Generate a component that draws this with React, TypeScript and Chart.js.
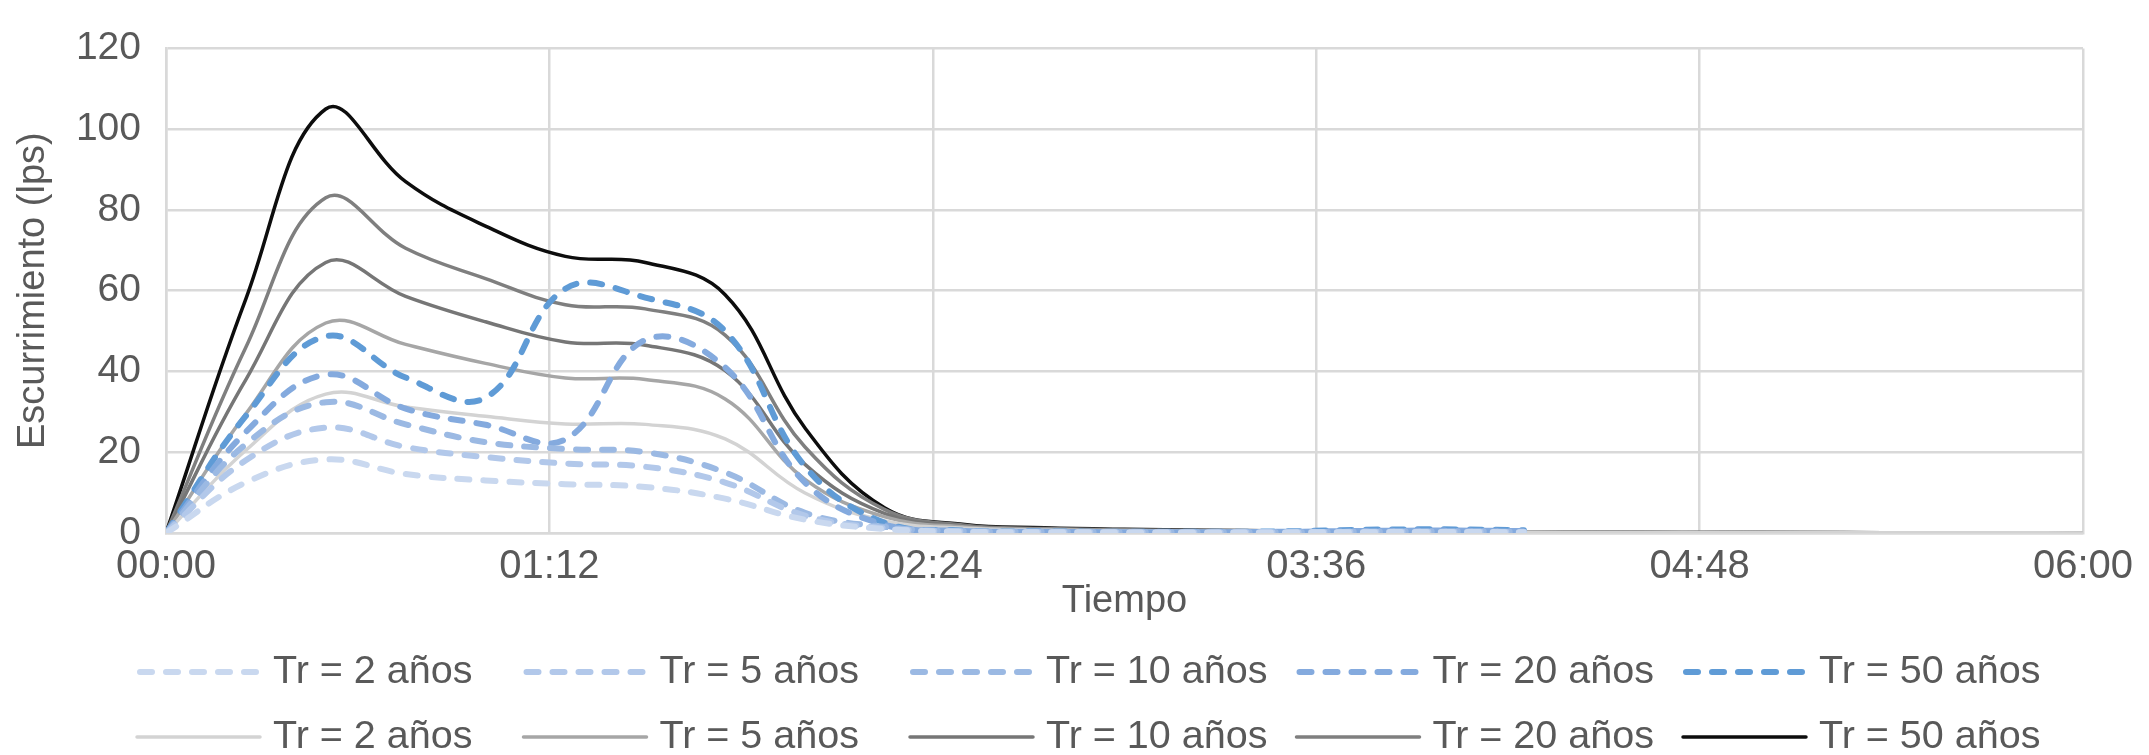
import React, { useEffect, useRef } from 'react';
import { Chart, registerables } from 'chart.js';

Chart.register(...registerables);

// Time in minutes
const timesSolid = [0, 15, 30, 45, 60, 75, 90, 105, 120, 135, 150, 165, 180, 195, 210, 225, 240, 255, 270, 285, 300, 315, 330, 345, 360];
const timesDashed = [0, 15, 30, 45, 60, 75, 90, 105, 120, 135, 150, 165, 180, 195, 210, 225, 240, 255];

const seriesLabels = ['Tr = 2 años', 'Tr = 5 años', 'Tr = 10 años', 'Tr = 20 años', 'Tr = 50 años'];

// Dashed series (blue)
const dashed2 = [0, 12.5, 18.2, 14.6, 13, 12.1, 11.4, 8.5, 3.3, 1, 0.3, 0.2, 0.15, 0.1, 0.15, 0.2, 0.25, 0.2];
const dashed5 = [0, 18, 26.1, 21.3, 18.8, 17.2, 16.4, 12.5, 4.3, 1.2, 0.4, 0.25, 0.2, 0.15, 0.2, 0.3, 0.3, 0.25];
const dashed10 = [0, 22, 32.4, 26.9, 22.5, 20.8, 20, 15, 5, 1.5, 0.4, 0.3, 0.2, 0.2, 0.2, 0.3, 0.4, 0.3];
const dashed20 = [0, 25, 39.2, 30.8, 26.8, 23.2, 47.8, 41, 12.5, 2, 0.5, 0.3, 0.2, 0.2, 0.3, 0.5, 0.6, 0.5];
const dashed50 = [0, 29, 48.7, 38.5, 33.5, 60.5, 58.3, 50, 16.5, 2.5, 0.6, 0.4, 0.3, 0.3, 0.4, 0.8, 0.9, 0.7];

// Solid series (grey)
const solid2 = [0, 20.5, 34.4, 31.2, 28.9, 27, 26.9, 23.3, 9.9, 3, 1.2, 0.7, 0.5, 0.4, 0.3, 0.25, 0.2, 0.16, 0.13, 0.1, 0.08, 0.06, 0.05, 0.04, 0.03];
const solid5 = [0, 29.5, 52, 46.7, 42, 38.4, 38, 33.2, 13.3, 4, 1.5, 0.9, 0.6, 0.45, 0.35, 0.28, 0.22, 0.18, 0.14, 0.11, 0.09, 0.07, 0.06, 0.05, 0.04];
const solid10 = [0, 38, 67, 58.6, 52.3, 47.3, 46.5, 40.2, 17, 4.8, 1.7, 1, 0.7, 0.5, 0.4, 0.32, 0.25, 0.2, 0.16, 0.13, 0.1, 0.08, 0.07, 0.05, 0.04];
const solid20 = [0, 46, 83, 70.5, 63, 56.5, 55.5, 49, 21.3, 5.8, 1.9, 1.1, 0.8, 0.6, 0.45, 0.35, 0.28, 0.22, 0.18, 0.14, 0.11, 0.09, 0.07, 0.05, 0.04];
const solid50 = [0, 58, 105, 87, 76, 68.5, 67, 59, 26, 6.2, 2.1, 1.3, 0.9, 0.7, 0.5, 0.4, 0.3, 0.25, 0.2, 0.15, 0.12, 0.1, 0.08, 0.06, 0.05];

const dashedColors = ['#c9d8ef', '#b2c8ea', '#9bb9e3', '#84aade', '#5f9bd6'];
const solidColors = ['#d3d3d3', '#a6a6a6', '#767676', '#7f7f7f', '#0d0d0d'];

const yTicks = [0, 20, 40, 60, 80, 100, 120];

const FONT = '"Liberation Sans", Arial, sans-serif';
const TEXT = '#595959';
const GRID = '#d9d9d9';

const fmtTime = (v: number) => {
  const h = Math.floor(v / 60);
  const m = Math.round(v % 60);
  return `${String(h).padStart(2, '0')}:${String(m).padStart(2, '0')}`;
};

const toPts = (xs: number[], ys: number[]) => ys.map((y, i) => ({ x: xs[i], y }));

const customLegend = {
  id: 'customLegend',
  afterDraw(chart: any) {
    const ctx = chart.ctx as CanvasRenderingContext2D;
    const ds = chart.data.datasets;
    ctx.save();
    ds.forEach((d: any, i: number) => {
      const row = i < 5 ? 0 : 1;
      const col = i % 5;
      const x0 = 137 + col * 386.5;
      const y = row === 0 ? 672 : 737;
      ctx.beginPath();
      ctx.strokeStyle = d.borderColor;
      ctx.lineWidth = d.borderWidth;
      ctx.lineCap = d.borderCapStyle || 'butt';
      ctx.setLineDash(d.borderDash || []);
      ctx.moveTo(x0 + (d.borderDash ? 3 : 0), y);
      ctx.lineTo(x0 + 123, y);
      ctx.stroke();
      ctx.setLineDash([]);
      ctx.fillStyle = TEXT;
      ctx.font = `39.5px ${FONT}`;
      ctx.textBaseline = 'middle';
      ctx.textAlign = 'left';
      ctx.fillText(d.label, x0 + 136, y);
    });
    ctx.restore();
  },
};

export default function App() {
  const ref = useRef<HTMLCanvasElement | null>(null);

  useEffect(() => {
    if (!ref.current) return;
    const dashedData = [dashed2, dashed5, dashed10, dashed20, dashed50];
    const solidData = [solid2, solid5, solid10, solid20, solid50];
    const datasets: any[] = [];
    dashedData.forEach((vals, i) => {
      datasets.push({
        label: seriesLabels[i],
        data: toPts(timesDashed, vals),
        borderColor: dashedColors[i],
        backgroundColor: dashedColors[i],
        borderWidth: 6,
        borderDash: [12, 14],
        borderCapStyle: 'round',
        pointRadius: 0,
        tension: 0.4,
        fill: false,
      });
    });
    solidData.forEach((vals, i) => {
      datasets.push({
        label: seriesLabels[i],
        data: toPts(timesSolid, vals),
        borderColor: solidColors[i],
        backgroundColor: solidColors[i],
        borderWidth: 3.5,
        borderCapStyle: 'round',
        pointRadius: 0,
        tension: 0.4,
        fill: false,
      });
    });

    const chart = new Chart(ref.current, {
      type: 'line',
      data: { datasets },
      plugins: [customLegend],
      options: {
        animation: false,
        responsive: false,
        devicePixelRatio: 1,
        layout: { padding: { left: 0, right: 66, top: 28, bottom: 129 } },
        plugins: {
          legend: { display: false },
          tooltip: { enabled: false },
        },
        scales: {
          x: {
            type: 'linear',
            min: 0,
            max: 360,
            grid: { color: GRID, lineWidth: 2.5, drawTicks: false },
            border: { color: GRID, width: 2.5 },
            ticks: {
              stepSize: 72,
              autoSkip: false,
              maxRotation: 0,
              padding: 10,
              color: TEXT,
              font: { family: FONT, size: 40 },
              callback: (v: any) => fmtTime(Number(v)),
            },
            title: {
              display: true,
              text: 'Tiempo',
              color: TEXT,
              font: { family: FONT, size: 38 },
              padding: { top: 0, bottom: 2 },
            },
            afterFit: (scale: any) => {
              scale.height = 93;
            },
          },
          y: {
            type: 'linear',
            min: 0,
            max: 120,
            afterBuildTicks: (scale: any) => {
              scale.ticks = yTicks.map((v) => ({ value: v }));
            },
            grid: { color: GRID, lineWidth: 2.5, drawTicks: false },
            border: { color: GRID, width: 2.5 },
            ticks: {
              padding: 25,
              color: TEXT,
              font: { family: FONT, size: 39 },
            },
            title: {
              display: true,
              text: 'Escurrimiento (lps)',
              color: TEXT,
              font: { family: FONT, size: 38 },
              padding: { top: 11, bottom: 0 },
            },
            afterFit: (scale: any) => {
              scale.width = 166;
            },
          },
        },
      },
    } as any);
    return () => chart.destroy();
  }, []);

  return (
    <div style={{ position: 'fixed', left: 0, top: 0, width: 2149, height: 755, overflow: 'hidden', background: '#fff' }}>
      <canvas ref={ref} width={2149} height={755} style={{ display: 'block', width: 2149, height: 755 }} />
    </div>
  );
}
